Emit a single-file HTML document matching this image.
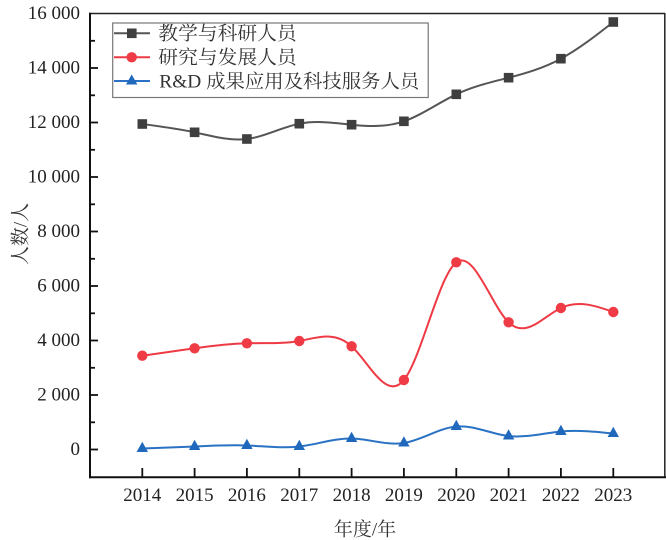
<!DOCTYPE html>
<html><head><meta charset="utf-8"><style>
html,body{margin:0;padding:0;background:#fff;}
svg{display:block;}
.t{font-family:"Liberation Serif","Noto Serif CJK SC",serif;font-size:19px;fill:#222;}
.c{font-family:"Liberation Serif","Noto Serif CJK SC",serif;font-size:19px;fill:#333;}
</style></head><body>
<svg width="666" height="540" viewBox="0 0 666 540" xmlns="http://www.w3.org/2000/svg">
<rect width="666" height="540" fill="#fff"/>
<!-- frame -->
<line x1="89" y1="13.5" x2="665" y2="13.5" stroke="#222" stroke-width="1.5"/>
<line x1="664.8" y1="13" x2="664.8" y2="477" stroke="#222" stroke-width="1.5"/>
<line x1="90" y1="12.8" x2="90" y2="478.3" stroke="#111" stroke-width="2"/>
<line x1="89" y1="477.3" x2="666" y2="477.3" stroke="#111" stroke-width="2"/>
<!-- y ticks -->
<g stroke="#111" stroke-width="1.8">
<line x1="90" y1="449.5" x2="98" y2="449.5"/>
<line x1="90" y1="395" x2="98" y2="395"/>
<line x1="90" y1="340.5" x2="98" y2="340.5"/>
<line x1="90" y1="286" x2="98" y2="286"/>
<line x1="90" y1="231.5" x2="98" y2="231.5"/>
<line x1="90" y1="177" x2="98" y2="177"/>
<line x1="90" y1="122.5" x2="98" y2="122.5"/>
<line x1="90" y1="68" x2="98" y2="68"/>
<line x1="90" y1="422.3" x2="95" y2="422.3"/>
<line x1="90" y1="367.8" x2="95" y2="367.8"/>
<line x1="90" y1="313.3" x2="95" y2="313.3"/>
<line x1="90" y1="258.8" x2="95" y2="258.8"/>
<line x1="90" y1="204.3" x2="95" y2="204.3"/>
<line x1="90" y1="149.8" x2="95" y2="149.8"/>
<line x1="90" y1="95.3" x2="95" y2="95.3"/>
<line x1="90" y1="40.8" x2="95" y2="40.8"/>
</g>
<!-- x ticks -->
<g stroke="#111" stroke-width="1.8">
<line x1="142.3" y1="477" x2="142.3" y2="468"/>
<line x1="194.6" y1="477" x2="194.6" y2="468"/>
<line x1="246.9" y1="477" x2="246.9" y2="468"/>
<line x1="299.3" y1="477" x2="299.3" y2="468"/>
<line x1="351.6" y1="477" x2="351.6" y2="468"/>
<line x1="403.9" y1="477" x2="403.9" y2="468"/>
<line x1="456.3" y1="477" x2="456.3" y2="468"/>
<line x1="508.6" y1="477" x2="508.6" y2="468"/>
<line x1="560.9" y1="477" x2="560.9" y2="468"/>
<line x1="613.3" y1="477" x2="613.3" y2="468"/>
</g>
<!-- y labels -->
<g class="t" text-anchor="end" dominant-baseline="central">
<text x="80" y="449.5">0</text>
<text x="80" y="395">2 000</text>
<text x="80" y="340.5">4 000</text>
<text x="80" y="286">6 000</text>
<text x="80" y="231.5">8 000</text>
<text x="80" y="177">10 000</text>
<text x="80" y="122.5">12 000</text>
<text x="80" y="68">14 000</text>
<text x="80" y="13.5">16 000</text>
</g>
<!-- x labels -->
<g class="t" text-anchor="middle" dominant-baseline="central">
<text x="142.3" y="495.5">2014</text>
<text x="194.6" y="495.5">2015</text>
<text x="246.9" y="495.5">2016</text>
<text x="299.3" y="495.5">2017</text>
<text x="351.6" y="495.5">2018</text>
<text x="403.9" y="495.5">2019</text>
<text x="456.3" y="495.5">2020</text>
<text x="508.6" y="495.5">2021</text>
<text x="560.9" y="495.5">2022</text>
<text x="613.3" y="495.5">2023</text>
</g>
<text class="c" x="365" y="530" text-anchor="middle" dominant-baseline="central">年度/年</text>
<text class="c" x="0" y="0" text-anchor="middle" dominant-baseline="central" transform="translate(21,234) rotate(-90)" textLength="62" lengthAdjust="spacingAndGlyphs">人数/人</text>

<!-- black series -->
<path fill="none" stroke="#555" stroke-width="2" d="M142.3,124 C159.7,126.3 177.2,128.6 194.6,132.3 C212.0,136.0 229.5,141.2 246.9,139 C264.3,136.8 281.9,127.2 299.3,123.7 C316.7,120.2 334.2,122.9 351.6,124.7 C369.0,126.5 386.5,127.3 403.9,121.3 C421.3,115.3 438.9,102.6 456.3,94.3 C473.7,86.0 491.2,82.2 508.6,77.7 C526.0,73.2 543.5,68.1 560.9,58.7 C578.3,49.3 595.9,35.7 613.3,22"/>
<g fill="#3f3f3f">
<rect x="137.5" y="119.2" width="9.6" height="9.6"/>
<rect x="189.8" y="127.5" width="9.6" height="9.6"/>
<rect x="242.1" y="134.2" width="9.6" height="9.6"/>
<rect x="294.5" y="118.9" width="9.6" height="9.6"/>
<rect x="346.8" y="119.9" width="9.6" height="9.6"/>
<rect x="399.1" y="116.5" width="9.6" height="9.6"/>
<rect x="451.5" y="89.5" width="9.6" height="9.6"/>
<rect x="503.8" y="72.9" width="9.6" height="9.6"/>
<rect x="556.1" y="53.9" width="9.6" height="9.6"/>
<rect x="608.5" y="17.2" width="9.6" height="9.6"/>
</g>

<!-- red series -->
<path fill="none" stroke="#ee3a44" stroke-width="2" d="M142.3,355.7 C159.7,353.2 177.2,350.7 194.6,348.3 C212.0,345.9 229.5,343.8 246.9,343.3 C264.3,342.8 281.9,344.1 299.3,341 C316.7,337.9 334.2,330.4 351.6,346.3 C369.0,362.3 386.5,401.7 403.9,380 C421.3,358.3 438.9,275.5 456.3,262.3 C473.7,249.1 491.2,305.5 508.6,322.3 C526.0,339.1 543.5,316.3 560.9,308 C578.3,299.7 595.9,305.8 613.3,312"/>
<g fill="#ef3b45">
<circle cx="142.3" cy="355.7" r="5.2"/>
<circle cx="194.6" cy="348.3" r="5.2"/>
<circle cx="246.9" cy="343.3" r="5.2"/>
<circle cx="299.3" cy="341" r="5.2"/>
<circle cx="351.6" cy="346.3" r="5.2"/>
<circle cx="403.9" cy="380" r="5.2"/>
<circle cx="456.3" cy="262.3" r="5.2"/>
<circle cx="508.6" cy="322.3" r="5.2"/>
<circle cx="560.9" cy="308" r="5.2"/>
<circle cx="613.3" cy="312" r="5.2"/>
</g>

<!-- blue series -->
<path fill="none" stroke="#2a72c4" stroke-width="2" d="M142.3,448.5 C159.7,447.9 177.2,447.3 194.6,446.5 C212.0,445.7 229.5,444.8 246.9,445.5 C264.3,446.2 281.9,448.5 299.3,446.5 C316.7,444.5 334.2,438.2 351.6,438.5 C369.0,438.8 386.5,445.7 403.9,443 C421.3,440.3 438.9,428.1 456.3,426.5 C473.7,424.9 491.2,434.0 508.6,436 C526.0,438.0 543.5,433.1 560.9,431.5 C578.3,429.9 595.9,431.7 613.3,433.5"/>
<g fill="#1f68bb">
<polygon points="142.3,441.8 136.6,452 148,452"/>
<polygon points="194.6,439.8 188.9,450 200.3,450"/>
<polygon points="246.9,438.8 241.2,449 252.6,449"/>
<polygon points="299.3,439.8 293.6,450 305,450"/>
<polygon points="351.6,431.8 345.9,442 357.3,442"/>
<polygon points="403.9,436.3 398.2,446.5 409.6,446.5"/>
<polygon points="456.3,419.8 450.6,430 462,430"/>
<polygon points="508.6,429.3 502.9,439.5 514.3,439.5"/>
<polygon points="560.9,424.8 555.2,435 566.6,435"/>
<polygon points="613.3,426.8 607.6,437 619,437"/>
</g>

<!-- legend -->
<rect x="112.7" y="23" width="315.5" height="74.5" fill="#fff" stroke="#777" stroke-width="1.2"/>
<line x1="114" y1="33.3" x2="150" y2="33.3" stroke="#555" stroke-width="2"/>
<rect x="127" y="28.5" width="9.6" height="9.6" fill="#3f3f3f"/>
<line x1="114" y1="57.3" x2="150" y2="57.3" stroke="#ee3a44" stroke-width="2"/>
<circle cx="131.7" cy="57.3" r="5.2" fill="#ef3b45"/>
<line x1="114" y1="81" x2="150" y2="81" stroke="#2a72c4" stroke-width="2"/>
<polygon points="131.7,74.5 126,84.5 137.4,84.5" fill="#1f68bb"/>
<g class="c" dominant-baseline="central">
<text x="158.3" y="34" textLength="138.4" lengthAdjust="spacingAndGlyphs">教学与科研人员</text>
<text x="158.3" y="57.8" textLength="138.4" lengthAdjust="spacingAndGlyphs">研究与发展人员</text>
<text x="159.3" y="82" textLength="260" lengthAdjust="spacingAndGlyphs">R&amp;D 成果应用及科技服务人员</text>
</g>
</svg>
</body></html>
